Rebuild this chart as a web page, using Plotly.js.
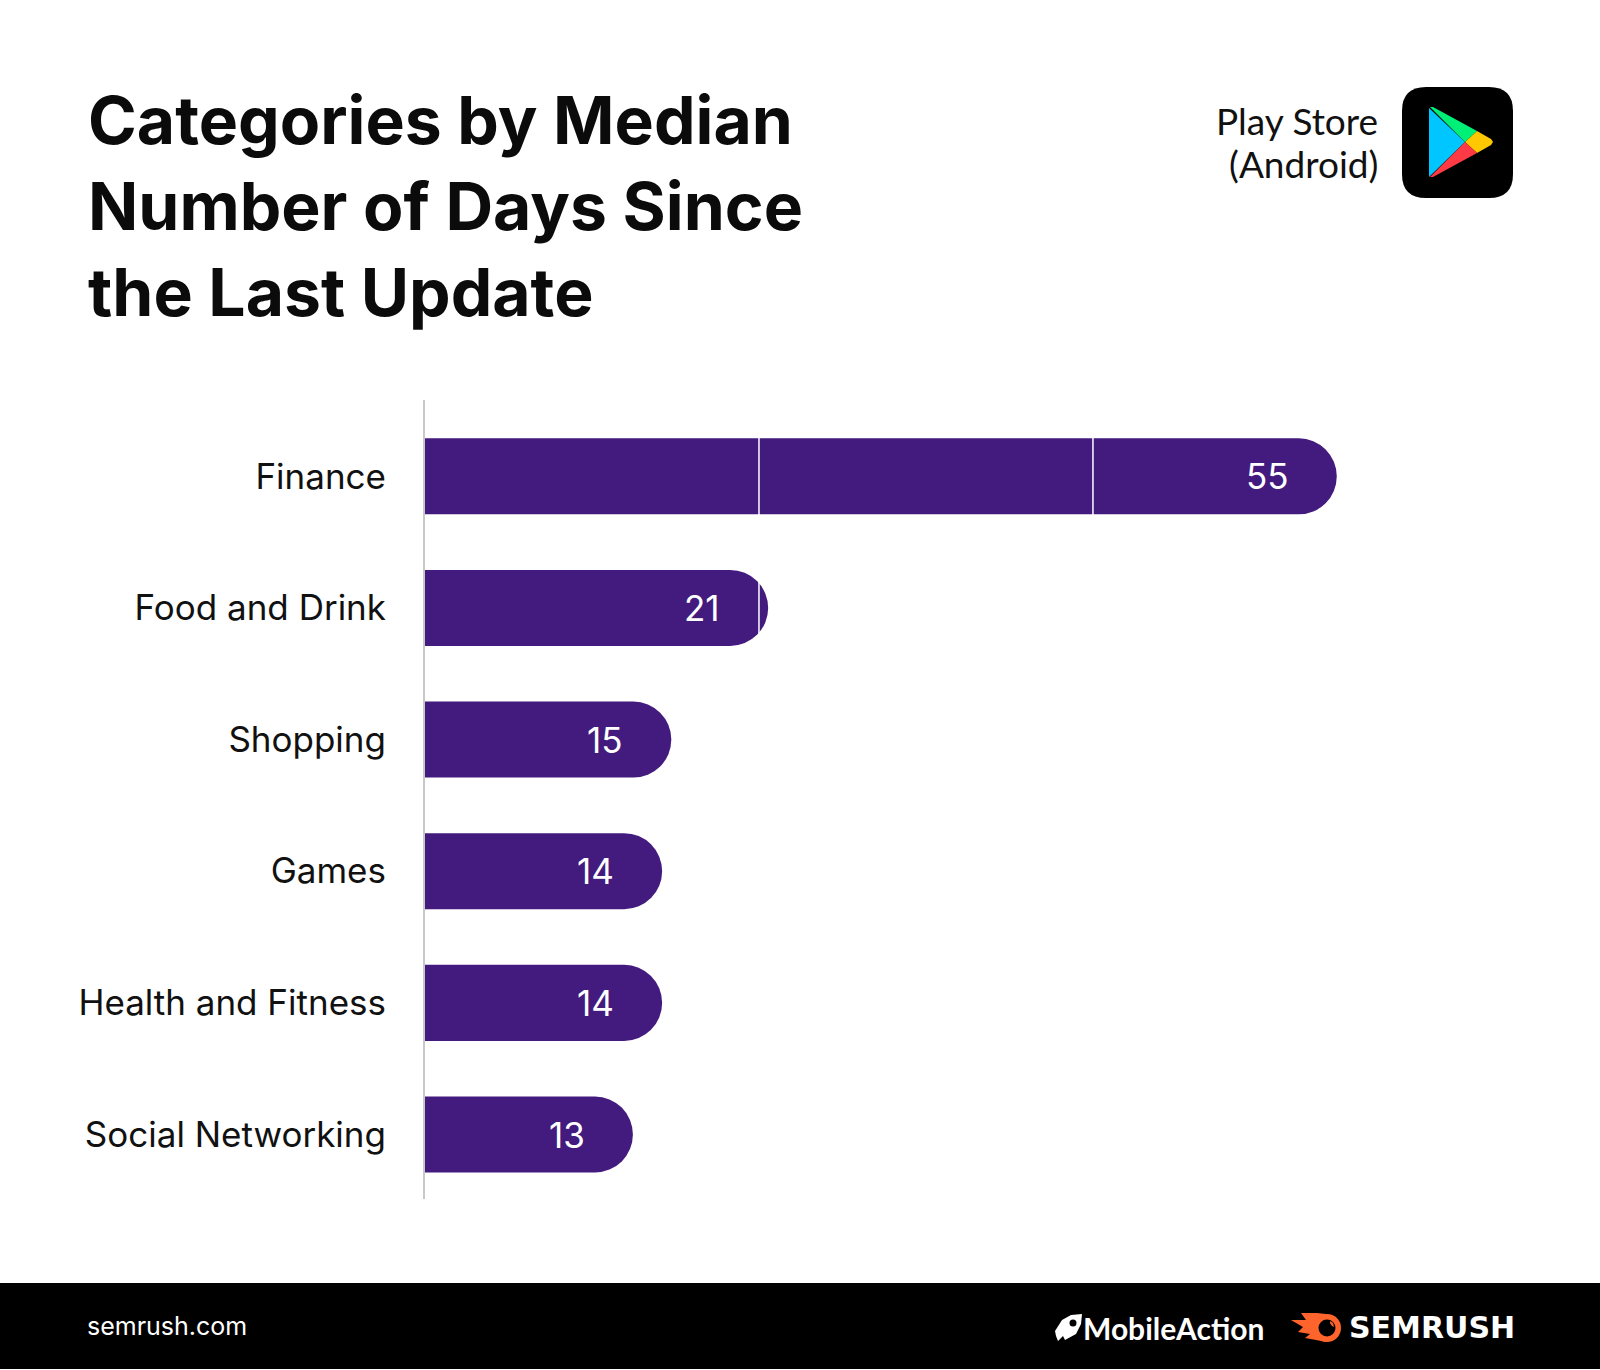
<!DOCTYPE html>
<html>
<head>
<meta charset="utf-8">
<script src="https://cdn.plot.ly/plotly-3.0.1.min.js"></script>
<style>html,body{margin:0;padding:0;background:#fff}</style>
</head>
<body>
<div id="chart" style="width:1600px;height:1370px"></div>
<script>
const categories = ["Finance", "Food and Drink", "Shopping", "Games", "Health and Fitness", "Social Networking"];
const barLengths = [54.6, 20.55, 14.75, 14.2, 14.2, 12.45];
const valueLabels = ["55", "21", "15", "14", "14", "13"];
const gridValues = [20, 40];
const titleLines = ["Categories by Median", "Number of Days Since", "the Last Update"];

const W = 1600, H = 1370, L = 425, R = 60, T = 400, B = 171;
const px = x => (x - L) / (W - L - R);
const py = y => 1 - (y - T) / (H - T - B);
const poly = pts => pts.map((p, i) => (i ? "L" : "M") + px(p[0]) + "," + py(p[1])).join(" ") + " Z";
const pathShape = (path, color) => ({type: "path", xref: "paper", yref: "paper", path, fillcolor: color, line: {width: 0}, layer: "above"});
const circle = (cx, cy, r, color) => ({type: "circle", xref: "paper", yref: "paper", x0: px(cx - r), x1: px(cx + r), y0: py(cy + r), y1: py(cy - r), fillcolor: color, line: {width: 0}, layer: "above"});
function roundRect(x0, y0, x1, y1, r) {
  const c = (x, y) => px(x) + "," + py(y);
  return "M" + c(x0 + r, y0) + " L" + c(x1 - r, y0) + " Q" + c(x1, y0) + " " + c(x1, y0 + r) +
    " L" + c(x1, y1 - r) + " Q" + c(x1, y1) + " " + c(x1 - r, y1) +
    " L" + c(x0 + r, y1) + " Q" + c(x0, y1) + " " + c(x0, y1 - r) +
    " L" + c(x0, y0 + r) + " Q" + c(x0, y0) + " " + c(x0 + r, y0) + " Z";
}
const pageText = (x, y, text, size, color, anchor, family, weight) => ({
  xref: "paper", yref: "paper", x: px(x), y: py(y), text, showarrow: false,
  xanchor: anchor, yanchor: "middle", align: anchor,
  font: {size, color, family, weight: weight || 400}
});

const trace = {
  type: "bar", orientation: "h", y: categories, x: barLengths, width: 0.5775,
  marker: {color: "#431A7E", cornerradius: 38, line: {width: 0}},
  hoverinfo: "skip"
};

const shapes = [
  {type: "rect", xref: "paper", yref: "paper", x0: px(0), x1: px(W), y0: py(1283), y1: py(1369), fillcolor: "#000", line: {width: 0}, layer: "below"},
  ...gridValues.map(v => ({type: "line", xref: "x", yref: "paper", x0: v, x1: v, y0: 0, y1: 1, line: {color: "#ffffff", width: 1.5}, layer: "above"})),
  pathShape(roundRect(1402, 87, 1513, 198, 24), "#000"),
  pathShape(poly([[1429, 108], [1465, 142], [1429, 177]]), "#00C6FF"),
  pathShape(poly([[1430, 107], [1433, 107], [1477, 131], [1465, 142]]), "#00EF77"),
  pathShape(poly([[1477, 131], [1491, 139], [1493, 142], [1491, 145], [1477, 153], [1465, 142]]), "#FFC800"),
  pathShape(poly([[1465, 142], [1477, 153], [1433, 177], [1430, 177]]), "#FF3A44"),
  pathShape(poly([[1291, 1320], [1306, 1320], [1301, 1313], [1317, 1313], [1326, 1314], [1326, 1342], [1316, 1340], [1305, 1338], [1310, 1334], [1298, 1332], [1303, 1327]]), "#FF642D"),
  circle(1327, 1328, 14, "#FF642D"),
  circle(1327, 1328, 8.5, "#000"),
  pathShape(poly([[1330, 1321], [1333, 1323], [1334, 1327], [1332, 1326], [1330, 1323]]), "#FF642D"),
  pathShape(poly([[1055, 1331], [1062, 1320], [1071, 1315], [1082, 1314], [1081, 1324], [1076, 1334], [1065, 1340], [1063, 1336], [1058, 1341], [1056, 1336]]), "#fff"),
  circle(1073, 1323, 3.5, "#000")
];

const annotations = [
  ...categories.map((c, i) => ({
    x: barLengths[i], y: c, xref: "x", yref: "y", text: valueLabels[i], showarrow: false,
    xanchor: "right", yanchor: "middle", xshift: -46,
    font: {family: "Inter", size: 35, color: "#fff"}
  })),
  pageText(1380, 120, "Play Store", 37, "#111", "right", "Lato"),
  pageText(1380, 164, "(Android)", 37, "#111", "right", "Lato"),
  pageText(85, 1326, "semrush.com", 25, "#fff", "left", "Inter"),
  pageText(1081, 1328, "MobileAction", 30, "#fff", "left", "Lato", 700),
  pageText(1347, 1327, "SEMRUSH", 30, "#fff", "left", "DejaVu Sans", 700)
];

const layout = {
  width: W, height: H,
  margin: {l: L, r: R, t: T, b: B, pad: 0},
  paper_bgcolor: "#fff", plot_bgcolor: "#fff",
  showlegend: false,
  title: {
    text: titleLines.join("<br>"),
    x: 88 / W, xanchor: "left", y: 1 - 144 / H, yanchor: "top", automargin: false,
    font: {family: "Inter", size: 66, color: "#0b0b0b", weight: 700}
  },
  xaxis: {visible: false, range: [0, 66.77], fixedrange: true, showgrid: false, zeroline: false},
  yaxis: {
    type: "category", categoryorder: "array", categoryarray: categories,
    range: [5.49, -0.58], showline: true, linecolor: "#c8c8c8", linewidth: 2,
    showgrid: false, zeroline: false, ticks: "", ticklabelstandoff: 30, fixedrange: true,
    tickfont: {family: "Inter", size: 35, color: "#111"}
  },
  shapes, annotations
};
Plotly.newPlot("chart", [trace], layout, {displayModeBar: false, responsive: false});
</script>
</body>
</html>
